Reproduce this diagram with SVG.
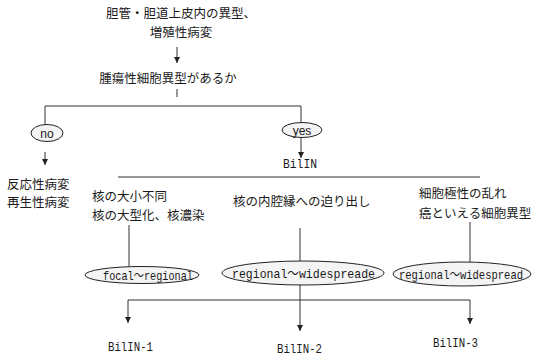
<svg xmlns="http://www.w3.org/2000/svg" width="535" height="356" viewBox="0 0 535 356">
<defs>
<style>
.jp{font-family:"Noto Sans CJK JP","Noto Sans CJK SC",sans-serif;font-size:12.5px;fill:#1a1a1a}
.mono{font-family:"Liberation Mono","Noto Sans CJK JP",monospace;font-size:13.5px;fill:#1a1a1a}
.sans{font-family:"Liberation Sans Narrow","Liberation Sans",sans-serif;font-size:12px;fill:#1a1a1a}
.ln{stroke:#333;stroke-width:1;fill:none}
.el{stroke:#222;stroke-width:1;fill:#f4f4f4}
</style>
<marker id="ah" viewBox="0 0 6 8" refX="6" refY="4" markerWidth="6" markerHeight="8" orient="auto" markerUnits="userSpaceOnUse">
<path d="M0,1 L6,4 L0,7 z" fill="#222"/>
</marker>
</defs>
<rect width="535" height="356" fill="#fff"/>
<g id="connectors">
<line class="ln" x1="177" y1="47" x2="177" y2="63" marker-end="url(#ah)"/>
<line class="ln" x1="177" y1="89" x2="177" y2="97"/>
<polyline class="ln" points="45,125 45,106 301,106 301,122.5"/>
<line class="ln" x1="45" y1="152" x2="45" y2="165" marker-end="url(#ah)"/>
<line class="ln" x1="301" y1="137.5" x2="301" y2="158" marker-end="url(#ah)"/>
<line class="ln" x1="118" y1="177" x2="480" y2="177"/>
<line class="ln" x1="129" y1="225" x2="129" y2="266.5"/>
<line class="ln" x1="300" y1="228" x2="300" y2="261"/>
<line class="ln" x1="470" y1="222" x2="470" y2="262"/>
<line class="ln" x1="128" y1="300" x2="470" y2="300"/>
<line class="ln" x1="128" y1="300" x2="128" y2="323" marker-end="url(#ah)"/>
<line class="ln" x1="300" y1="285" x2="300" y2="331" marker-end="url(#ah)"/>
<line class="ln" x1="470" y1="300" x2="470" y2="324" marker-end="url(#ah)"/>
</g>
<g id="title">
<text class="jp" x="181" y="18" text-anchor="middle">胆管・胆道上皮内の異型、</text>
<text class="jp" x="181" y="37" text-anchor="middle">増殖性病変</text>
</g>
<g id="question">
<text class="jp" x="168" y="83" text-anchor="middle">腫瘍性細胞異型があるか</text>
</g>
<g id="no">
<ellipse class="el" cx="47" cy="133" rx="16" ry="8.5"/>
<text class="sans" x="47" y="137.5" text-anchor="middle">no</text>
</g>
<g id="yes">
<ellipse class="el" cx="302" cy="130" rx="20" ry="7.5"/>
<text class="sans" x="302" y="134.5" text-anchor="middle">yes</text>
</g>
<g id="reactive">
<text class="jp" x="7" y="189">反応性病変</text>
<text class="jp" x="7" y="207">再生性病変</text>
</g>
<g id="bilin">
<text class="mono" x="300" y="167.5" text-anchor="middle" textLength="34" lengthAdjust="spacingAndGlyphs">BilIN</text>
</g>
<g id="criteria1">
<text class="jp" x="92" y="201">核の大小不同</text>
<text class="jp" x="92" y="220">核の大型化、核濃染</text>
</g>
<g id="criteria2">
<text class="jp" x="233" y="206">核の内腔縁への迫り出し</text>
</g>
<g id="criteria3">
<text class="jp" x="419" y="198">細胞極性の乱れ</text>
<text class="jp" x="419" y="218">癌といえる細胞異型</text>
</g>
<g id="extent1">
<ellipse class="el" cx="142" cy="275" rx="57" ry="8.5"/>
<text class="mono" x="148" y="279.5" text-anchor="middle" textLength="90" lengthAdjust="spacingAndGlyphs">focal～regional</text>
</g>
<g id="extent2">
<ellipse class="el" cx="303" cy="273" rx="81" ry="12"/>
<text class="mono" x="303.5" y="277.5" text-anchor="middle" textLength="143" lengthAdjust="spacingAndGlyphs">regional～widespreade</text>
</g>
<g id="extent3">
<ellipse class="el" cx="462" cy="274" rx="69" ry="12"/>
<text class="mono" x="461" y="278.5" text-anchor="middle" textLength="124" lengthAdjust="spacingAndGlyphs">regional～widespread</text>
</g>
<g id="bilin1">
<text class="mono" x="130.5" y="351" text-anchor="middle" textLength="45" lengthAdjust="spacingAndGlyphs">BilIN-1</text>
</g>
<g id="bilin2">
<text class="mono" x="299.5" y="353" text-anchor="middle" textLength="45" lengthAdjust="spacingAndGlyphs">BilIN-2</text>
</g>
<g id="bilin3">
<text class="mono" x="455.5" y="347" text-anchor="middle" textLength="45" lengthAdjust="spacingAndGlyphs">BilIN-3</text>
</g>
</svg>
